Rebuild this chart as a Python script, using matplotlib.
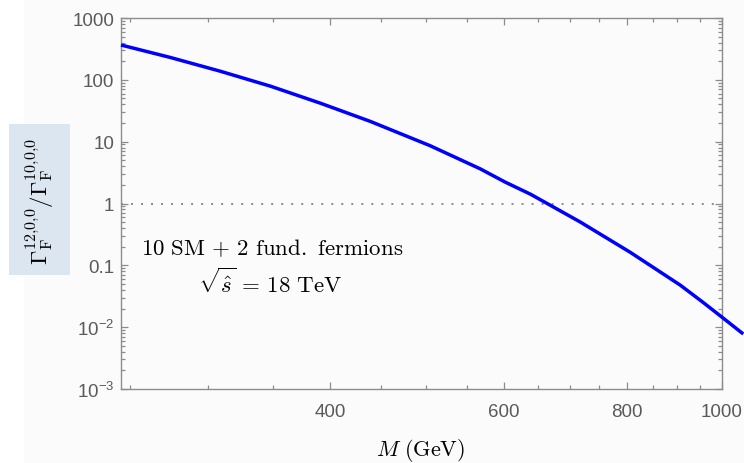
import numpy as np
import matplotlib.pyplot as plt
from matplotlib.patches import Rectangle
from matplotlib.ticker import FixedLocator, FixedFormatter, LogLocator, NullFormatter

plt.rcParams['mathtext.fontset'] = 'cm'
plt.rcParams['font.family'] = ['Liberation Sans', 'DejaVu Sans']

# ratio
mass = [245, 275, 309, 348, 391, 439, 505, 568, 602, 639, 718, 807, 907, 955, 1000, 1051]
ratio = [366, 230, 138, 78.5, 41.7, 21.3, 8.61, 3.63, 2.22, 1.41, 0.50, 0.162, 0.0478,
         0.0257, 0.0145, 0.00776]

x_major = [400, 600, 800, 1000]
x_labels = ['400', '600', '800', '1000']
x_minor = [250, 300, 350, 450, 500, 550, 650, 700, 750, 850, 900, 950]
y_major = [1e-3, 1e-2, 0.1, 1, 10, 100, 1000]
y_labels = [r'$\mathregular{10^{-3}}$', r'$\mathregular{10^{-2}}$', '0.1', '1', '10', '100', '1000']

W, H = 744, 464
bg = '#fbfbfb'
fig = plt.figure(figsize=(W / 100, H / 100), dpi=100, facecolor=bg)
fig.patches.append(Rectangle((0, 0), 24 / W, 1, transform=fig.transFigure,
                             facecolor='white', edgecolor='none', zorder=-1))

ax = fig.add_axes([121 / W, 1 - 390 / H, (722 - 121) / W, (390 - 19) / H])
ax.set_facecolor(bg)
ax.set_xscale('log')
ax.set_yscale('log')
ax.set_xlim(245, 1000)
ax.set_ylim(1e-3, 1e3)

ax.axhline(1, color='#8a8a8a', lw=1.4, ls=(0, (1, 4.15)))
ax.plot(mass, ratio, color='#0000ff', lw=2.5, clip_on=False, zorder=3,
        solid_capstyle='butt', solid_joinstyle='round')

ax.xaxis.set_major_locator(FixedLocator(x_major))
ax.xaxis.set_major_formatter(FixedFormatter(x_labels))
ax.xaxis.set_minor_locator(FixedLocator(x_minor))
ax.xaxis.set_minor_formatter(NullFormatter())
ax.yaxis.set_major_locator(FixedLocator(y_major))
ax.yaxis.set_major_formatter(FixedFormatter(y_labels))
ax.yaxis.set_minor_locator(LogLocator(base=10, subs=np.arange(2, 10), numticks=20))
ax.yaxis.set_minor_formatter(NullFormatter())

frame = '#8c8c8c'
for s in ax.spines.values():
    s.set_color(frame)
    s.set_linewidth(1.0)
ax.tick_params(which='both', direction='in', top=True, right=True, color=frame,
               labelcolor='#5a5a5a', labelsize=13.5, width=0.9)
ax.tick_params(which='major', length=5)
ax.tick_params(which='minor', length=3)
ax.tick_params(axis='x', pad=10)
ax.tick_params(axis='y', pad=5)

ax.text(0.251, 0.364, r'$10\ \mathrm{SM}\,+\,2\ \mathrm{fund.}\ \mathrm{fermions}$',
        transform=ax.transAxes, ha='center', va='baseline', fontsize=16.5)
ax.text(0.248, 0.261, r'$\sqrt{\hat{s}}\,=\,18\ \mathrm{TeV}$',
        transform=ax.transAxes, ha='center', va='baseline', fontsize=16.5)

fig.text(421 / W, 1 - 456 / H, r'$M\ (\mathrm{GeV})$', ha='center', va='baseline',
         fontsize=16)

fig.patches.append(Rectangle((9 / W, 1 - 276 / H), 61 / W, 151 / H,
                             transform=fig.transFigure, facecolor='#dce6f0',
                             edgecolor='none'))
fig.text(40 / W, 1 - 202 / H,
         r'$\Gamma_{\rm F}^{12{,}0{,}0}/\Gamma_{\rm F}^{10{,}0{,}0}$',
         rotation=90, ha='center', va='center', fontsize=16.5)

fig.savefig('out.png', dpi=100, facecolor=bg)
